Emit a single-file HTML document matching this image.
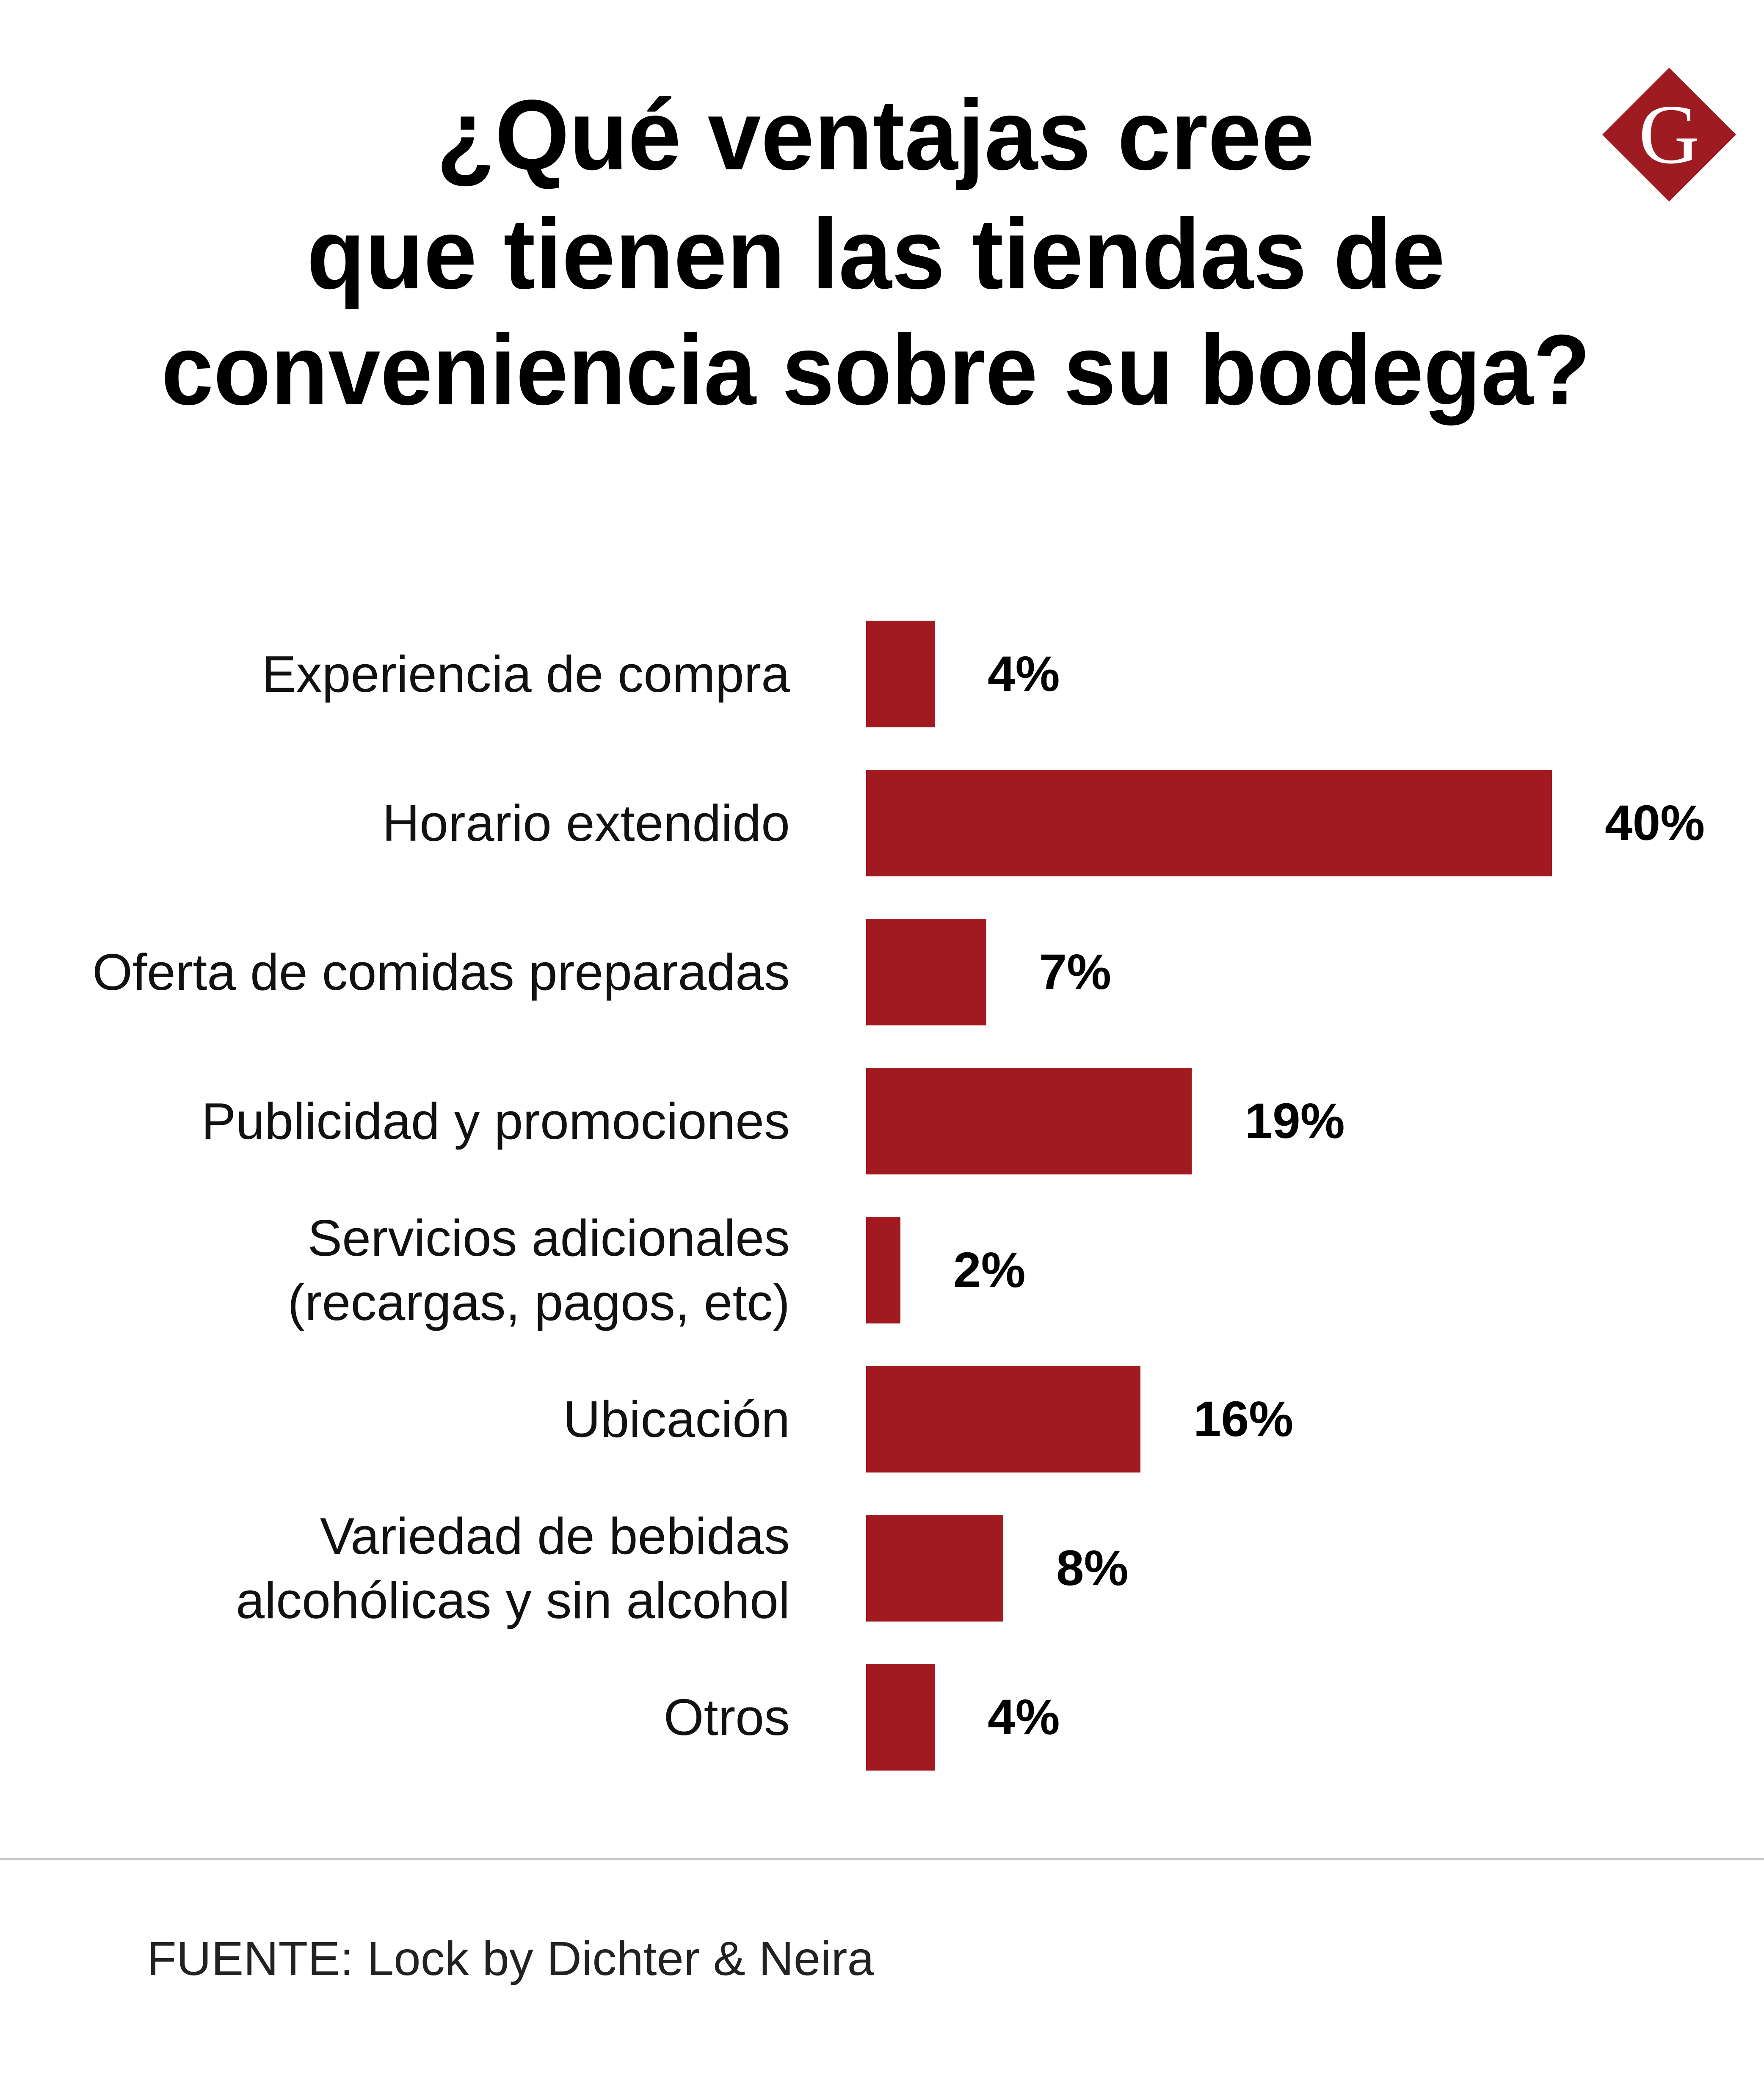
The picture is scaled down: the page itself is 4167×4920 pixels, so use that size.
<!DOCTYPE html>
<html><head><meta charset="utf-8"><style>
html,body{margin:0;padding:0;background:#fff;}
svg{display:block;}
</style></head><body>
<svg id="chart" width="4167" height="4920" viewBox="0 0 4167 4920" xmlns="http://www.w3.org/2000/svg">
<rect x="0" y="0" width="4167" height="4920" fill="#fff"/>
<g font-family="Liberation Sans, sans-serif" font-weight="bold" font-size="236" fill="#000" text-anchor="middle">
<text x="2068" y="400" textLength="2074" lengthAdjust="spacingAndGlyphs">¿Qué ventajas cree</text>
<text x="2069" y="681" textLength="2689" lengthAdjust="spacingAndGlyphs">que tienen las tiendas de</text>
<text x="2069" y="955" textLength="3376" lengthAdjust="spacingAndGlyphs">conveniencia sobre su bodega?</text>
</g>
<g>
<polygon points="3943,160 4101,318 3943,476 3785,318" fill="#9e1b21"/>
<text x="3943" y="318" dominant-baseline="central" text-anchor="middle" font-family="Liberation Serif, serif" font-size="200" fill="#fff">G</text>
</g>
<g id="bars"></g>
<rect x="0" y="4389" width="4167" height="5" fill="#c8c8c8"/>
<text x="347" y="4665" font-family="Liberation Sans, sans-serif" font-size="113" fill="#222" textLength="1718" lengthAdjust="spacingAndGlyphs">FUENTE: Lock by Dichter &amp; Neira</text>
</svg>
<script>
const categories = [["Experiencia de compra"],["Horario extendido"],["Oferta de comidas preparadas"],["Publicidad y promociones"],["Servicios adicionales","(recargas, pagos, etc)"],["Ubicación"],["Variedad de bebidas","alcohólicas y sin alcohol"],["Otros"]];
const values = [4,40,7,19,2,16,8,4];
const valueLabels = ["4%","40%","7%","19%","2%","16%","8%","4%"];

const NS = "http://www.w3.org/2000/svg";
const g = document.getElementById('bars');
const x0 = 2046, pxPer = 40.5;
const top0 = 1466, step = 352, bh = 252;
function xScale(v){ return x0 + v * pxPer; }
function yBand(i){ return top0 + i * step; }
categories.forEach((lines, i) => {
  const y = yBand(i), cy = y + bh / 2;
  const r = document.createElementNS(NS, 'rect');
  
  
  r.setAttribute('x', x0); r.setAttribute('y', y);
  r.setAttribute('width', xScale(values[i]) - x0); r.setAttribute('height', bh);
  r.setAttribute('fill', '#a11a20');
  g.appendChild(r);
  lines.forEach((ln, k) => {
    const t = document.createElementNS(NS, 'text');
    
    
    t.setAttribute('x', 1866);
    t.setAttribute('y', cy + (k - (lines.length - 1) / 2) * 152);
    t.setAttribute('text-anchor', 'end');
    t.setAttribute('dominant-baseline', 'central');
    t.setAttribute('font-family', 'Liberation Sans, sans-serif');
    t.setAttribute('font-size', '122');
    t.setAttribute('fill', '#111');
    t.textContent = ln;
    g.appendChild(t);
  });
  const v = document.createElementNS(NS, 'text');
  
  
  v.setAttribute('x', xScale(values[i]) + 125);
  v.setAttribute('y', cy);
  v.setAttribute('dominant-baseline', 'central');
  v.setAttribute('font-family', 'Liberation Sans, sans-serif');
  v.setAttribute('font-weight', 'bold');
  v.setAttribute('font-size', '118');
  v.setAttribute('fill', '#000');
  v.textContent = valueLabels[i];
  g.appendChild(v);
});
</script>
</body></html>
